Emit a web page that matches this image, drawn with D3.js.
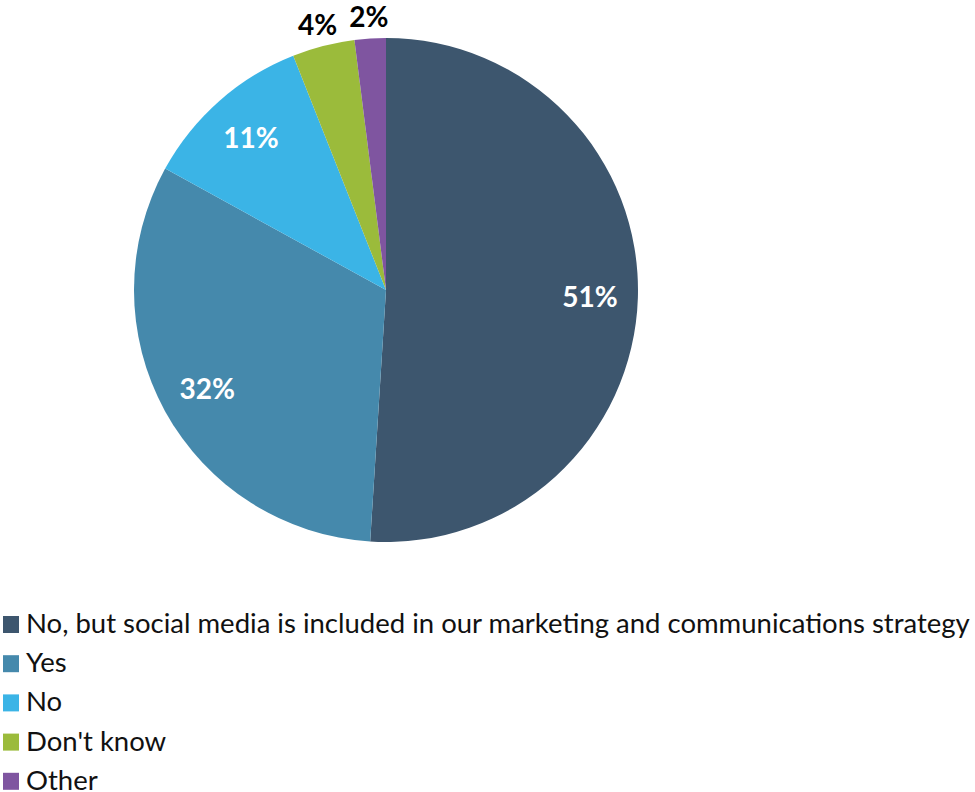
<!DOCTYPE html>
<html>
<head>
<meta charset="utf-8">
<script src="https://cdn.jsdelivr.net/npm/d3@7"></script>
<style>
  html, body { margin: 0; padding: 0; background: #fff; }
  svg { display: block; font-family: Lato, "Open Sans", sans-serif; }
</style>
</head>
<body>
<svg id="chart" width="975" height="792"></svg>
<script>
// Survey answers, shares in percent
const categories = [
  "No, but social media is included in our marketing and communications strategy",
  "Yes",
  "No",
  "Don't know",
  "Other"
];
const values = [51, 32, 11, 4, 2];
const colors = ["#3d566e", "#4589ac", "#3bb4e6", "#9bbb3b", "#7f55a0"];
// slices too narrow for an inside label get theirs outside the rim
const labelOutside = [false, false, false, true, true];

const W = 975, H = 792;
const cx = 386, cy = 290, R = 252;

const svg = d3.select("#chart");

const data = categories.map((c, i) => ({ name: c, value: values[i], color: colors[i], outside: labelOutside[i] }));

const pie = d3.pie().value(d => d.value).sort(null);
const arcs = pie(data);
const arc = d3.arc().innerRadius(0).outerRadius(R);
const inLabel = d3.arc().innerRadius(R * 0.81).outerRadius(R * 0.81);
const outLabel = d3.arc().innerRadius(R * 1.09).outerRadius(R * 1.09);

const g = svg.append("g").attr("transform", `translate(${cx},${cy})`);

g.selectAll("path.slice")
  .data(arcs)
  .join("path")
  .attr("class", "slice")
  .attr("d", arc)
  .attr("fill", d => d.data.color);

g.selectAll("text.val")
  .data(arcs)
  .join("text")
  .attr("class", "val")
  .attr("transform", d => `translate(${(d.data.outside ? outLabel : inLabel).centroid(d)})`)
  .attr("text-anchor", "middle")
  .attr("dominant-baseline", "central")
  .attr("font-size", 28)
  .attr("font-weight", 700)
  .attr("fill", d => d.data.outside ? "#000" : "#fff")
  .text(d => d.data.value + "%");

// Legend
const legendY = d3.scaleBand().domain(categories).range([614, 810]).paddingInner(0);
const legend = svg.append("g");
const rows = legend.selectAll("g.row")
  .data(data)
  .join("g")
  .attr("class", "row")
  .attr("transform", d => `translate(0,${legendY(d.name)})`);

rows.append("rect")
  .attr("x", 3).attr("y", 2)
  .attr("width", 16).attr("height", 17)
  .attr("fill", d => d.color);

rows.append("text")
  .attr("x", 26).attr("y", 19)
  .attr("font-size", 27.5)
  .attr("fill", "#111")
  .text(d => d.name);
</script>
</body>
</html>
